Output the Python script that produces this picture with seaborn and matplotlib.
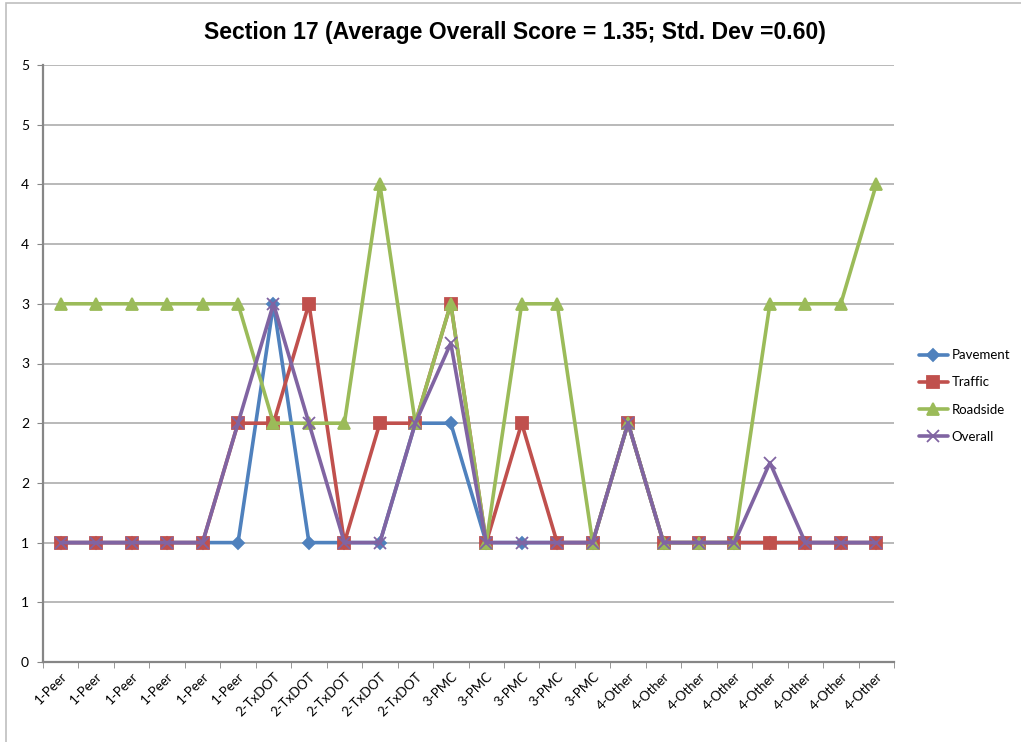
import math
import numpy as np
import pandas as pd
import matplotlib.pyplot as plt
import matplotlib.patches as patches
from matplotlib.ticker import FixedLocator, MultipleLocator, FuncFormatter
import seaborn as sns

# categories (one per reviewer)
categorias = ["1-Peer"] * 6 + ["2-TxDOT"] * 5 + ["3-PMC"] * 5 + ["4-Other"] * 8

# scores
pavement = [1, 1, 1, 1, 1, 1, 3, 1, 1, 1, 2, 2, 1, 1, 1, 1, 2, 1, 1, 1, 1, 1, 1, 1]
traffic = [1, 1, 1, 1, 1, 2, 2, 3, 1, 2, 2, 3, 1, 2, 1, 1, 2, 1, 1, 1, 1, 1, 1, 1]
roadside = [3, 3, 3, 3, 3, 3, 2, 2, 2, 4, 2, 3, 1, 3, 3, 1, 2, 1, 1, 1, 3, 3, 3, 4]
overall = [1, 1, 1, 1, 1, 2, 3, 2, 1, 1, 2, 2.67, 1, 1, 1, 1, 2, 1, 1, 1, 1.67, 1, 1, 1]

series = ["Pavement", "Traffic", "Roadside", "Overall"]
cores = ["#4F81BD", "#C0504D", "#9BBB59", "#8064A2"]
marcadores = ["D", "s", "^", "x"]
tamanhos = [6, 8, 9, 8]

titulo = "Section 17 (Average Overall Score = 1.35; Std. Dev =0.60)"

sns.set_style("white")
plt.rcParams["font.family"] = ["Lato", "DejaVu Sans"]
plt.rcParams["text.color"] = "black"
plt.rcParams["xtick.color"] = "black"
plt.rcParams["ytick.color"] = "black"

fig = plt.figure(figsize=(10.21, 7.42), dpi=100)
ax = fig.add_axes([43 / 1021, 80 / 742, 851 / 1021, 597 / 742])

# borda da area do grafico (estilo Excel)
fig.patches.append(patches.Rectangle((6 / 1021, -0.05), 1.2, 0.05 + (742 - 3) / 742,
                                     transform=fig.transFigure, fill=False,
                                     edgecolor="#BFBFBF", linewidth=1.2))

# uma serie de cada vez (seaborn nao mistura marcadores cheios e de linha)
for nome, valores, cor, mk, ms in zip(series, [pavement, traffic, roadside, overall],
                                      cores, marcadores, tamanhos):
    df = pd.DataFrame({"pos": np.arange(len(categorias)), "score": valores})
    sns.lineplot(data=df, x="pos", y="score", color=cor, marker=mk, markersize=ms,
                 markeredgecolor=cor, markeredgewidth=1.3, linewidth=2.6,
                 label=nome, ax=ax)

ax.set_xlim(-0.5, len(categorias) - 0.5)
ax.set_ylim(0, 5)
ax.yaxis.set_major_locator(MultipleLocator(0.5))
ax.yaxis.set_major_formatter(FuncFormatter(lambda v, p: str(int(math.floor(v + 0.5)))))
ax.grid(axis="y", color="#A6A6A6", linewidth=1.1)
ax.set_axisbelow(True)

ax.set_xticks(np.arange(len(categorias)))
ax.set_xticklabels(categorias, rotation=45, ha="right", rotation_mode="anchor", fontsize=9.5)
ax.tick_params(axis="x", length=0, pad=6)
ax.xaxis.set_minor_locator(FixedLocator(np.arange(-0.5, len(categorias), 1)))
ax.tick_params(axis="x", which="minor", length=4, color="#868686", direction="out", bottom=True)
ax.tick_params(axis="y", length=4, color="#868686", labelcolor="black", direction="out",
               left=True, labelsize=10, pad=6)

for lado in ["top", "right"]:
    ax.spines[lado].set_visible(False)
for lado in ["left", "bottom"]:
    ax.spines[lado].set_color("#868686")
    ax.spines[lado].set_linewidth(1.6)

ax.set_xlabel("")
ax.set_ylabel("")

fig.text(515 / 1021, 1 - 33 / 742, titulo, ha="center", va="center", fontsize=16.6,
         fontweight="bold", color="black", family=["Liberation Sans", "DejaVu Sans"])

leg = ax.legend(loc="center left", bbox_to_anchor=(907 / 1021, 1 - 396 / 742),
                bbox_transform=fig.transFigure, frameon=False, fontsize=9.5,
                handlelength=2.2, labelspacing=1.15, handletextpad=0.3)

fig.savefig("out.png", dpi=100)
